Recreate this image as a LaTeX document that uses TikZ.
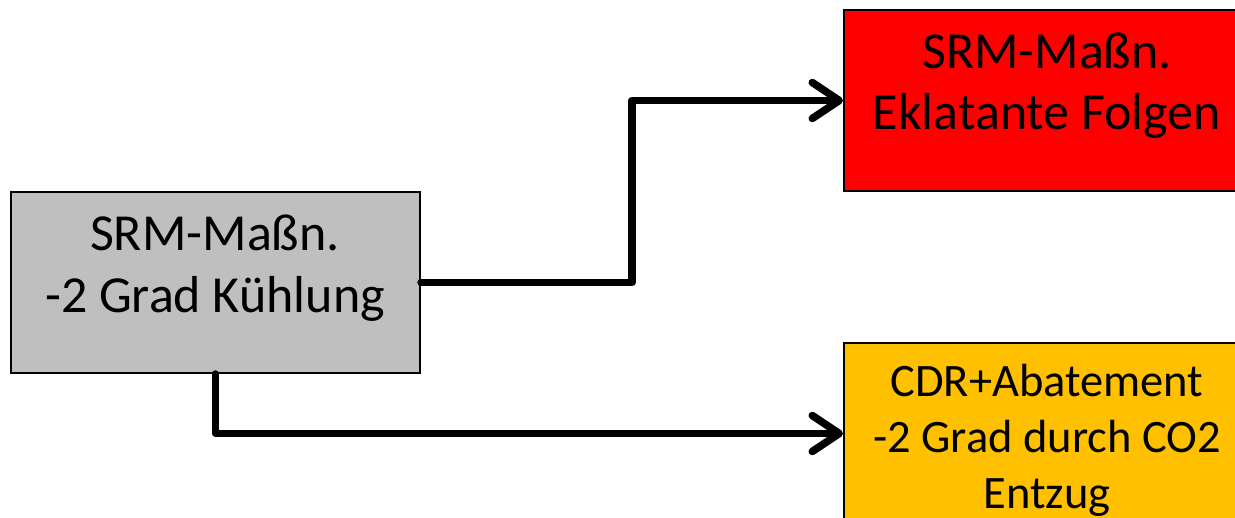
\documentclass[tikz,border=0pt]{standalone}
\usepackage{fontspec}
\setmainfont{Carlito}
\usetikzlibrary{arrows.meta}
\definecolor{boxgray}{RGB}{191,191,191}
\definecolor{boxred}{RGB}{255,0,0}
\definecolor{boxorange}{RGB}{255,192,0}
\begin{document}
\begin{tikzpicture}[x=1pt,y=-1pt,
  box/.style={draw=black, line width=2pt, inner sep=0pt, anchor=north west},
  bigtxt/.style={anchor=base, inner sep=0pt, font=\fontsize{52}{62}\selectfont},
  midtxt/.style={anchor=base, inner sep=0pt, font=\fontsize{46.5}{56}\selectfont},
  conn/.style={line width=7.5pt, line join=round, line cap=round,
    -{Straight Barb[length=27pt,width=36pt,round]}}
]
\useasboundingbox (0,0) rectangle (1235,518);
\clip (0,0) rectangle (1235,518);

\node[box, fill=boxgray, minimum width=409pt, minimum height=181pt] (gray) at (10,191) {};
\node[box, fill=boxred, minimum width=406pt, minimum height=181pt] (red) at (843,9) {};
\node[box, fill=boxorange, minimum width=406pt, minimum height=181pt] (orange) at (843,342) {};

\node[bigtxt] (g1) at (215,251) {SRM-Maßn.};
\node[bigtxt] (g2) at (215,313) {-2 Grad Kühlung};

\node[bigtxt] (r1) at (1047,69) {SRM-Maßn.};
\node[bigtxt] (r2) at (1047,130) {Eklatante Folgen};

\node[midtxt] (o1) at (1047,397) {CDR+Abatement};
\node[midtxt] (o2) at (1047,453) {-2 Grad durch CO2};
\node[midtxt] (o3) at (1047,509) {Entzug};

\draw[conn] (gray.east) -- ++(211,0) |- (red.west);
\draw[conn] (gray.south) |- (orange.west);
\end{tikzpicture}
\end{document}
